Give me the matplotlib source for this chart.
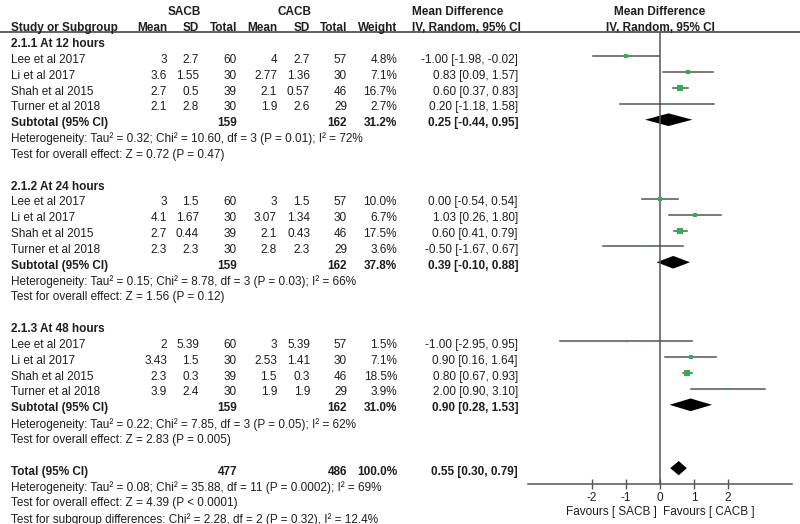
import numpy as np
import matplotlib
matplotlib.use("Agg")
import matplotlib.pyplot as plt
import matplotlib.transforms as mtransforms

plt.rcParams['font.family'] = ['Liberation Sans', 'DejaVu Sans']

# ---- data ----
studies = ["Lee et al 2017", "Li et al 2017", "Shah et al 2015", "Turner et al 2018"]
groups = ["2.1.1 At 12 hours", "2.1.2 At 24 hours", "2.1.3 At 48 hours"]

sacb_mean = [[3, 3.6, 2.7, 2.1], [3, 4.1, 2.7, 2.3], [2, 3.43, 2.3, 3.9]]
sacb_sd = [[2.7, 1.55, 0.5, 2.8], [1.5, 1.67, 0.44, 2.3], [5.39, 1.5, 0.3, 2.4]]
sacb_n = [[60, 30, 39, 30], [60, 30, 39, 30], [60, 30, 39, 30]]
cacb_mean = [[4, 2.77, 2.1, 1.9], [3, 3.07, 2.1, 2.8], [3, 2.53, 1.5, 1.9]]
cacb_sd = [[2.7, 1.36, 0.57, 2.6], [1.5, 1.34, 0.43, 2.3], [5.39, 1.41, 0.3, 1.9]]
cacb_n = [[57, 30, 46, 29], [57, 30, 46, 29], [57, 30, 46, 29]]
weight = [[4.8, 7.1, 16.7, 2.7], [10.0, 6.7, 17.5, 3.6], [1.5, 7.1, 18.5, 3.9]]
md = [[-1.00, 0.83, 0.60, 0.20], [0.00, 1.03, 0.60, -0.50], [-1.00, 0.90, 0.80, 2.00]]
md_lo = [[-1.98, 0.09, 0.37, -1.18], [-0.54, 0.26, 0.41, -1.67], [-2.95, 0.16, 0.67, 0.90]]
md_hi = [[-0.02, 1.57, 0.83, 1.58], [0.54, 1.80, 0.79, 0.67], [0.95, 1.64, 0.93, 3.10]]

sub_n1 = [159, 159, 159]
sub_n2 = [162, 162, 162]
sub_w = [31.2, 37.8, 31.0]
sub_md = [0.25, 0.39, 0.90]
sub_lo = [-0.44, -0.10, 0.28]
sub_hi = [0.95, 0.88, 1.53]
sub_het = ["Heterogeneity: Tau² = 0.32; Chi² = 10.60, df = 3 (P = 0.01); I² = 72%",
           "Heterogeneity: Tau² = 0.15; Chi² = 8.78, df = 3 (P = 0.03); I² = 66%",
           "Heterogeneity: Tau² = 0.22; Chi² = 7.85, df = 3 (P = 0.05); I² = 62%"]
sub_test = ["Test for overall effect: Z = 0.72 (P = 0.47)",
            "Test for overall effect: Z = 1.56 (P = 0.12)",
            "Test for overall effect: Z = 2.83 (P = 0.005)"]

tot_n1, tot_n2, tot_w = 477, 486, 100.0
tot_md, tot_lo, tot_hi = 0.55, 0.30, 0.79
tot_lines = ["Heterogeneity: Tau² = 0.08; Chi² = 35.88, df = 11 (P = 0.0002); I² = 69%",
             "Test for overall effect: Z = 4.39 (P < 0.0001)",
             "Test for subgroup differences: Chi² = 2.28, df = 2 (P = 0.32), I² = 12.4%"]

xticks = [-2, -1, 0, 1, 2]

# ---- layout ----
TXT = '#1e1e1e'
GREEN = '#2eb34c'
FS = 8.5
ROW_PX, ROW0_PX = 15.84, 44.0

fig = plt.figure(figsize=(8, 5.24), dpi=100)
ax = fig.add_axes([0, 0, 1, 1])
ax.set_xlim(0, 800)
ax.set_ylim((524 - ROW0_PX) / ROW_PX, -ROW0_PX / ROW_PX)
ax.axis('off')

def put(x, row, s, ha='right', bold=False):
    ax.text(x, row, s, ha=ha, va='center', fontsize=FS, color=TXT,
            fontweight='bold' if bold else 'normal')

# column right edges
cx = dict(m1=167, s1=199, n1=237, m2=277, s2=310, n2=347, w=397, ci=518)

# headers
put(184, -2, "SACB", ha='center', bold=True)
put(294, -2, "CACB", ha='center', bold=True)
put(412, -2, "Mean Difference", ha='left', bold=True)
put(660, -2, "Mean Difference", ha='center', bold=True)
put(11, -1, "Study or Subgroup", ha='left', bold=True)
for k, lab in [('m1', 'Mean'), ('s1', 'SD'), ('n1', 'Total'), ('m2', 'Mean'),
               ('s2', 'SD'), ('n2', 'Total'), ('w', 'Weight')]:
    put(cx[k], -1, lab, bold=True)
put(412, -1, "IV, Random, 95% CI", ha='left', bold=True)
put(660, -1, "IV, Random, 95% CI", ha='center', bold=True)
hl = (32 - ROW0_PX) / ROW_PX
ax.plot([0, 800], [hl, hl], color='#555555', lw=1.3)

# forest axes
fa = fig.add_axes([528 / 800, (524 - 484) / 524, 264 / 800, (484 - 32) / 524])
fa.patch.set_alpha(0)
fa.set_xlim(-3.88, 3.88)
fa.set_ylim((484 - 40.5) / ROW_PX, (32 - 40.5) / ROW_PX)
for sp in ['top', 'left', 'right']:
    fa.spines[sp].set_visible(False)
fa.spines['bottom'].set_color('#555555')
fa.spines['bottom'].set_linewidth(1.1)
fa.set_yticks([])
fa.set_xticks(xticks)
fa.set_xticklabels([str(t) for t in xticks], fontsize=FS, color=TXT)
fa.tick_params(axis='x', direction='inout', length=7, width=1.0, color='#555555', pad=2)
fa.axvline(0, color='#555555', lw=1.1)

def diamond(row, m, lo, hi, h=0.4):
    fa.fill([lo, m, hi, m], [row, row - h, row, row + h], color='black', lw=0)

for g in range(3):
    base = 9 * g
    put(11, base, groups[g], ha='left', bold=True)
    for i in range(4):
        r = base + 1 + i
        put(11, r, studies[i], ha='left')
        put(cx['m1'], r, f"{sacb_mean[g][i]:g}")
        put(cx['s1'], r, f"{sacb_sd[g][i]:g}")
        put(cx['n1'], r, f"{sacb_n[g][i]}")
        put(cx['m2'], r, f"{cacb_mean[g][i]:g}")
        put(cx['s2'], r, f"{cacb_sd[g][i]:g}")
        put(cx['n2'], r, f"{cacb_n[g][i]}")
        put(cx['w'], r, f"{weight[g][i]:.1f}%")
        put(cx['ci'], r, f"{md[g][i]:.2f} [{md_lo[g][i]:.2f}, {md_hi[g][i]:.2f}]")
        fa.plot([md_lo[g][i], md_hi[g][i]], [r, r], color='#555555', lw=1.1)
        fa.plot(md[g][i], r, marker='s', color=GREEN, ms=1.0 * np.sqrt(weight[g][i]), mew=0)
    r = base + 5
    put(11, r, "Subtotal (95% CI)", ha='left', bold=True)
    put(cx['n1'], r, f"{sub_n1[g]}", bold=True)
    put(cx['n2'], r, f"{sub_n2[g]}", bold=True)
    put(cx['w'], r, f"{sub_w[g]:.1f}%", bold=True)
    put(cx['ci'], r, f"{sub_md[g]:.2f} [{sub_lo[g]:.2f}, {sub_hi[g]:.2f}]", bold=True)
    diamond(r, sub_md[g], sub_lo[g], sub_hi[g])
    put(11, base + 6, sub_het[g], ha='left')
    put(11, base + 7, sub_test[g], ha='left')

put(11, 27, "Total (95% CI)", ha='left', bold=True)
put(cx['n1'], 27, f"{tot_n1}", bold=True)
put(cx['n2'], 27, f"{tot_n2}", bold=True)
put(cx['w'], 27, f"{tot_w:.1f}%", bold=True)
put(cx['ci'], 27, f"{tot_md:.2f} [{tot_lo:.2f}, {tot_hi:.2f}]", bold=True)
diamond(27, tot_md, tot_lo, tot_hi, h=0.45)
for j, s in enumerate(tot_lines):
    put(11, 28 + j, s, ha='left')

trans = mtransforms.blended_transform_factory(fa.transData, fa.transAxes)
fa.text(-0.1, -0.062, "Favours [ SACB ]", ha='right', va='center', fontsize=FS, color=TXT, transform=trans)
fa.text(0.1, -0.062, "Favours [ CACB ]", ha='left', va='center', fontsize=FS, color=TXT, transform=trans)

fig.savefig("out.png", dpi=100)
